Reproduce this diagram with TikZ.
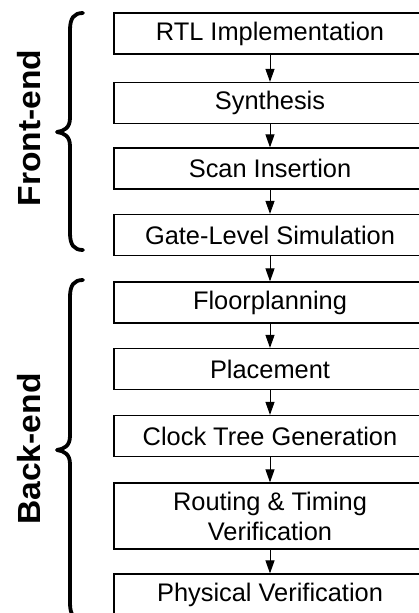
\documentclass[tikz,border=0pt]{standalone}
\usepackage{fontspec}
\setmainfont{Liberation Sans}
\usetikzlibrary{arrows.meta,positioning}

\tikzset{
  x=1pt, y=-1pt,
  stepbox/.style={draw=black, line width=1.2pt, fill=white,
    minimum width=312pt, minimum height=41pt, inner sep=0pt,
    align=center, font=\fontsize{25.4}{30}\selectfont},
  flow/.style={line width=1pt, -{Triangle[width=9pt,length=13pt]}},
  bracepath/.style={line width=3.8pt, line cap=round, line join=round},
  phase/.style={rotate=90, font=\bfseries\fontsize{32}{34}\selectfont}
}

\begin{document}
\begin{tikzpicture}
\useasboundingbox (0,0) rectangle (419,613);
\clip (0,0) rectangle (419,613);

% design-flow steps
\node[stepbox] (rtl)   at (270,33.5)  {RTL Implementation};
\node[stepbox] (syn)   at (270,103)   {Synthesis};
\node[stepbox] (scan)  at (270,168.5) {Scan Insertion};
\node[stepbox] (gls)   at (270,235)   {Gate-Level Simulation};
\node[stepbox] (floor) at (270,302.5) {Floorplanning};
\node[stepbox] (place) at (270,369)   {Placement};
\node[stepbox] (cts)   at (270,436)   {Clock Tree Generation};
\node[stepbox, minimum height=66pt] (route) at (270,516) {Routing \& Timing\\Verification};
\node[stepbox] (phys)  at (270,594.5) {Physical Verification};

% connectors between consecutive steps
\foreach \a/\b in {rtl/syn, syn/scan, scan/gls, gls/floor, floor/place,
                   place/cts, cts/route, route/phys}
  \draw[flow] (\a.south) -- (\b.north);

% curly braces grouping the two phases
\draw[bracepath] (83,13) .. controls (74,13) and (70,18) .. (70,30)
  -- (70,118) .. controls (70,128) and (64,131) .. (57,132)
  .. controls (64,133) and (70,136) .. (70,146)
  -- (70,233) .. controls (70,245) and (74,250) .. (83,250);
\draw[bracepath] (83,280) .. controls (74,280) and (70,285) .. (70,297)
  -- (70,436) .. controls (70,446) and (64,449) .. (57,450)
  .. controls (64,451) and (70,454) .. (70,464)
  -- (70,603) .. controls (70,615) and (74,620) .. (83,620);

% phase labels
\node[phase] (front) at (29,128) {\scalebox{1.05}[1]{Front-end}};
\node[phase] (back)  at (29,449) {\scalebox{1.05}[1]{Back-end}};
\end{tikzpicture}
\end{document}
